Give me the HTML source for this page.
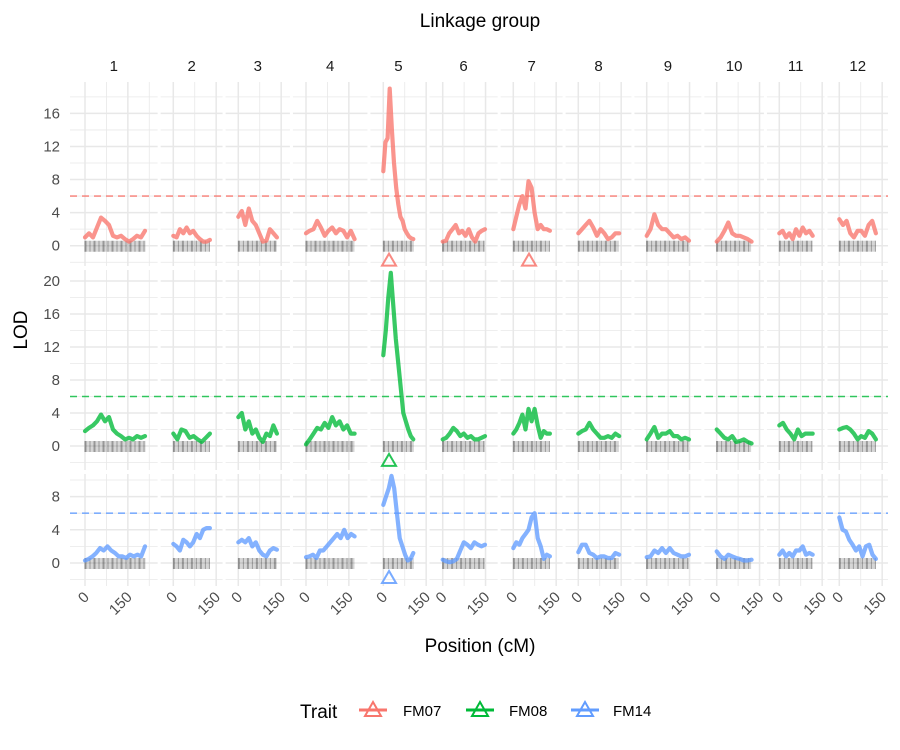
<!DOCTYPE html>
<html><head><meta charset="utf-8"><style>
body{margin:0;background:#fff;}
svg{display:block;font-family:"Liberation Sans",sans-serif;}
</style></head><body>
<svg id="chart" width="900" height="750" viewBox="0 0 900 750" xmlns="http://www.w3.org/2000/svg">
<text x="480" y="27" text-anchor="middle" font-size="19" fill="#000">Linkage group</text>
<text x="27" y="330" text-anchor="middle" font-size="19" fill="#000" transform="rotate(-90,27,330)">LOD</text>
<text x="480" y="652" text-anchor="middle" font-size="19" fill="#000">Position (cM)</text>
<g id="plot"></g>
<g>
<text x="300" y="718" font-size="19" fill="#000">Trait</text>
<g>
<line x1="359" y1="710" x2="387" y2="710" stroke="#F8766D" stroke-width="3"/>
<polygon points="373,702 381,716 365,716" fill="none" stroke="#F8766D" stroke-width="2"/>
<text x="403" y="716" font-size="15" fill="#000">FM07</text></g>
<g>
<line x1="466" y1="710" x2="494" y2="710" stroke="#00BA38" stroke-width="3"/>
<polygon points="480,702 488,716 472,716" fill="none" stroke="#00BA38" stroke-width="2"/>
<text x="509" y="716" font-size="15" fill="#000">FM08</text></g>
<g>
<line x1="571" y1="710" x2="599" y2="710" stroke="#619CFF" stroke-width="3"/>
<polygon points="585,702 593,716 577,716" fill="none" stroke="#619CFF" stroke-width="2"/>
<text x="613" y="716" font-size="15" fill="#000">FM14</text></g>
</g>
</svg>
<script>
const groups = ["1","2","3","4","5","6","7","8","9","10","11","12"];
const groupLengths = [210,128,135,170,105,148,128,143,148,122,117,128];
const traits = ["FM07","FM08","FM14"];
const threshold = 6;
const yTicksFM07 = [0,4,8,12,16];
const yTicksFM08 = [0,4,8,12,16,20];
const yTicksFM14 = [0,4,8];
const xTickLabels = [0,150];
const lodFM07 = [
[1.0,1.5,1.0,2.2,3.4,3.0,2.5,1.2,1.0,1.2,0.8,0.5,0.8,1.2,1.0,1.8],
[1.2,1.0,2.0,1.5,2.2,1.5,1.8,1.2,0.8,0.5,0.5,0.7],
[3.5,4.2,2.5,4.5,3.0,2.5,1.5,0.5,0.6,2.0,1.5,1.0],
[1.5,1.8,2.0,3.0,2.2,1.2,1.8,2.2,1.5,2.0,1.8,1.0,1.8,0.8],
[9,12.5,13,19,14,10,7,5,3.5,3,2,1.5,1.1,0.9,0.8],
[0.5,0.6,1.5,2.0,2.5,1.5,1.8,1.2,2.0,1.0,0.5,1.5,1.8,2.0],
[2,3.5,5,6,4.5,7.8,7,4,2,2.5,2,2,1.8],
[1.5,2.0,2.5,3.0,2.2,1.2,2.0,1.5,0.8,1.0,1.5,1.5],
[1.2,2.0,3.8,2.5,2.0,2.0,1.5,1.0,1.2,0.8,1.0,0.6],
[0.5,1.0,1.8,2.8,1.5,1.2,1.2,1.0,0.8,0.5],
[1.5,1.8,1.0,1.5,0.8,2.0,1.2,2.2,1.5,1.8,1.2],
[3.2,2.5,3.0,1.5,1.0,1.8,1.8,1.2,2.5,3.0,1.5]];
const lodFM08 = [
[1.8,2.2,2.5,3.0,3.8,3.0,3.5,2.0,1.5,1.2,0.8,1.0,0.8,1.2,1.0,1.2],
[1.5,0.8,2.0,1.8,1.0,1.2,0.8,0.5,1.0,1.5],
[3.5,4.0,2.0,3.0,1.5,2.0,1.0,0.5,1.5,1.2,2.5,1.5],
[0.2,0.8,1.5,2.2,2.0,2.8,2.2,3.5,2.5,3.0,2.0,2.5,1.5,1.5],
[11,14,18,21,17,13,10,7,4,3,2,1.2,0.8],
[0.8,1.0,1.5,2.2,1.8,1.2,1.5,1.0,1.2,0.8,0.8,1.0,1.2],
[1.5,2.0,2.8,3.8,2.0,4.5,3.0,4.5,2.5,1.0,1.8,1.5,1.5],
[1.5,1.8,2.0,2.8,2.0,1.5,1.0,1.0,1.2,1.0,1.5,1.2],
[0.8,1.5,2.3,1.0,1.5,1.5,1.8,1.2,1.2,0.8,1.0,0.8],
[2.0,1.5,1.0,0.8,1.2,0.5,0.6,0.8,0.5,0.3],
[2.5,2.8,2.0,1.5,0.8,2.0,1.2,1.5,1.5,1.5],
[2.0,2.2,2.3,2.0,1.5,0.8,1.2,1.0,1.8,1.5,0.8]];
const lodFM14 = [
[0.3,0.5,0.8,1.2,1.8,1.5,2.0,1.5,1.2,0.8,0.8,0.6,1.0,0.8,1.0,0.8,2.0],
[2.3,2.0,1.5,2.8,2.5,2.0,2.5,3.5,3.0,4.0,4.2,4.2],
[2.5,2.8,2.5,3.0,2.0,2.5,1.5,1.0,0.8,1.5,1.8,1.6],
[0.7,0.8,1.0,0.6,1.5,1.5,2.0,2.5,3.0,3.5,3.0,4.0,3.0,3.5,3.2],
[7,8,9,10.5,9,6,3,2,1,0.3,0.5,1.2],
[0.4,0.2,0.1,0.2,0.5,1.5,2.5,2.2,1.8,2.5,2.2,2.0,2.2],
[1.8,2.5,2.2,3.0,3.5,4.0,5.5,6.0,3.0,2.0,0.5,1.0,0.8],
[1.3,2.2,2.2,1.2,1.0,0.6,0.8,0.8,0.6,0.6,1.2,1.0],
[0.7,0.8,1.5,1.2,1.8,1.2,1.8,1.2,1.0,0.8,0.8,1.0],
[1.4,0.8,0.5,1.0,0.8,0.6,0.5,0.3,0.3,0.4],
[1.0,1.5,0.8,1.2,0.8,1.5,1.5,2.0,1.0,1.2,1.0],
[5.5,4.0,3.8,2.8,2.2,1.5,2.0,0.8,2.0,2.2,1.0,0.5]];
const peakGroupFM07 = [5,7];
const peakPosFM07 = [20,55];
const peakGroupFM08 = [5];
const peakPosFM08 = [20];
const peakGroupFM14 = [5];
const peakPosFM14 = [20];

const NS="http://www.w3.org/2000/svg";
const plot=document.getElementById('plot');
function mk(tag,attrs,parent){const e=document.createElementNS(NS,tag);for(const k in attrs)e.setAttribute(k,attrs[k]);(parent||plot).appendChild(e);return e;}
const S=0.2857;
const zeros=[85,173.3,238.3,306,383.3,442.7,513.3,578.3,646.7,716.7,779.3,839.3];
const bounds=[];
for(let i=0;i<12;i++){
  let L = i===0?70:(bounds[i-1][1]+3);
  let R;
  if(i===11) R=888; else { const end=zeros[i]+groupLengths[i]*S; R=(end+zeros[i+1])/2-1.5; }
  bounds.push([L,R]);
}
function xs(g,cm){return zeros[g]+cm*S;}
const rows=[
 {trait:"FM07",col:"#F8766D",zero:245.7,ppu:8.27,top:82,bot:266,ticks:yTicksFM07,lod:lodFM07,pg:peakGroupFM07,pp:peakPosFM07,ymin:-2.5,ymax:19.5},
 {trait:"FM08",col:"#00BA38",zero:446,ppu:8.25,top:270,bot:470,ticks:yTicksFM08,lod:lodFM08,pg:peakGroupFM08,pp:peakPosFM08,ymin:-2.9,ymax:21.3},
 {trait:"FM14",col:"#619CFF",zero:563,ppu:8.3,top:474,bot:586,ticks:yTicksFM14,lod:lodFM14,pg:peakGroupFM14,pp:peakPosFM14,ymin:-2.7,ymax:10.8}];
rows.forEach((r,ri)=>{
  const ys=v=>r.zero-v*r.ppu;
  const rg=mk('g',{});
  
  
  for(let g=0;g<12;g++){
    const [L,R]=bounds[g];
    for(let v=Math.ceil(r.ymin/2)*2; v<=r.ymax; v+=2){
      const major=(v%4===0);
      mk('line',{x1:L,x2:R,y1:ys(v),y2:ys(v),stroke:'#E8E8E8','stroke-width':major?1.5:0.8},rg);
    }
    for(let c=-75;c<=300;c+=75){
      const x=xs(g,c); if(x<L||x>R) continue;
      mk('line',{x1:x,x2:x,y1:r.top,y2:r.bot,stroke:'#E8E8E8','stroke-width':(c%150===0)?1.5:0.8},rg);
    }
    const rug=mk('g',{},rg);
    
    
    for(let c=0;c<=groupLengths[g];c+=3.5){
      mk('line',{x1:xs(g,c),x2:xs(g,c),y1:r.zero-5,y2:r.zero+6,stroke:'#000','stroke-opacity':((Math.round(c*10)*7)%9<3)?0.5:0.2,'stroke-width':0.8},rug);
    }
  }
  const th=mk('line',{x1:70,x2:888,y1:ys(threshold),y2:ys(threshold),stroke:r.col,'stroke-opacity':0.8,'stroke-width':1.6,'stroke-dasharray':'7,5'},rg);
  
  
  for(let g=0;g<12;g++){
    const vals=r.lod[g]; const step=groupLengths[g]/(vals.length-1);
    const pts=vals.map((v,i)=>xs(g,i*step).toFixed(1)+','+ys(v).toFixed(1)).join(' ');
    const pl=mk('polyline',{points:pts,fill:'none',stroke:r.col,'stroke-opacity':0.78,'stroke-width':4.2,'stroke-linejoin':'round','stroke-linecap':'round'},rg);
    
    
  }
  r.pg.forEach((gg,i)=>{
    const x=xs(gg-1,r.pp[i]); const y=ys(-1.8);
    const t=mk('polygon',{points:`${x},${y-7} ${x+7},${y+5} ${x-7},${y+5}`,fill:'none',stroke:r.col,'stroke-opacity':0.85,'stroke-width':2},rg);
    
    
  });
  r.ticks.forEach(v=>{
    const t=mk('text',{x:60,y:ys(v)+5,'text-anchor':'end','font-size':15,fill:'#4D4D4D'},rg);
    t.textContent=v;
    
    
  });
});
for(let g=0;g<12;g++){
  const [L,R]=bounds[g];
  const s=mk('text',{x:(L+R)/2,y:71,'text-anchor':'middle','font-size':15,fill:'#1A1A1A'});
  s.textContent=groups[g];
  
  
  xTickLabels.forEach(c=>{
    const x=xs(g,c)+5, y=598;
    const t=mk('text',{x:x,y:y,'text-anchor':'end','font-size':15,fill:'#4D4D4D',transform:`rotate(-45,${x},${y})`});
    t.textContent=c;
    
    
  });
}
</script>
</body></html>
